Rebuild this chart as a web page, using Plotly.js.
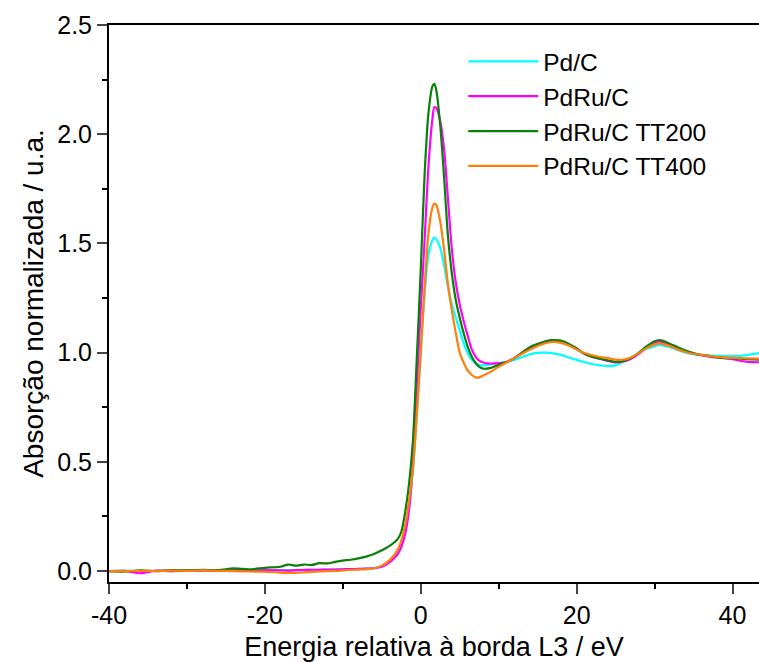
<!DOCTYPE html>
<html>
<head>
<meta charset="utf-8">
<script src="https://cdn.plot.ly/plotly-3.0.1.min.js"></script>
<style>html,body{margin:0;padding:0;background:#fff;}#chart{width:759px;height:662px;}</style>
</head>
<body>
<div id="chart"></div>
<script>
var energy = [-40,-38,-36,-34,-32,-30,-28,-26,-24,-22,-20,-18,-17,-16,-15,-14,-13,-12,-11,-10,-9,-8,-7,-6,-5,-4,-3,-2.5,-2,-1.5,-1,-0.5,0,0.5,1,1.5,1.75,2,2.5,3,3.5,4,4.5,5,5.5,6,6.5,7,7.5,8,9,10,11,12,13,14,15,16,17,18,19,20,21,22,23,24,25,26,27,28,29,30,30.6,31,32,33,34,35,36,37,38,39,40,41,42,43.5];

var pdC = [0,0.002,0,0.001,0,0.002,0.003,0.002,0.004,0.003,0.004,0.004,0.004,0.005,0.005,0.006,0.006,0.007,0.007,0.008,0.009,0.01,0.011,0.014,0.022,0.045,0.085,0.125,0.19,0.3,0.46,0.72,1.0,1.27,1.45,1.515,1.527,1.52,1.48,1.4,1.3,1.22,1.16,1.1,1.045,1.0,0.97,0.952,0.943,0.942,0.947,0.952,0.957,0.967,0.98,0.992,0.999,1.0,0.997,0.99,0.978,0.967,0.957,0.948,0.942,0.938,0.942,0.958,0.978,1.0,1.018,1.03,1.034,1.033,1.025,1.012,1.0,0.993,0.988,0.986,0.985,0.984,0.984,0.985,0.99,0.998];

var pdRuC = [0,0.001,-0.01,0.002,0,0.003,0.002,0.001,0.004,0.002,0.005,0.003,0.002,0.004,0.005,0.006,0.006,0.007,0.007,0.008,0.009,0.01,0.011,0.013,0.02,0.04,0.075,0.11,0.17,0.28,0.5,0.86,1.2,1.52,1.86,2.07,2.124,2.12,2.06,1.93,1.7,1.47,1.32,1.22,1.145,1.08,1.02,0.983,0.963,0.955,0.95,0.952,0.957,0.975,1.0,1.022,1.038,1.05,1.055,1.05,1.035,1.015,0.995,0.982,0.972,0.962,0.955,0.96,0.972,0.995,1.025,1.045,1.05,1.048,1.035,1.02,1.005,0.995,0.988,0.982,0.978,0.975,0.97,0.963,0.958,0.956];

var pdRuTT200 = [0,-0.002,0.003,0,0.004,0.003,0.006,0.004,0.012,0.008,0.015,0.02,0.03,0.025,0.03,0.028,0.036,0.035,0.042,0.048,0.052,0.058,0.066,0.078,0.095,0.115,0.145,0.18,0.27,0.4,0.6,0.98,1.38,1.82,2.1,2.22,2.231,2.2,2.04,1.8,1.53,1.36,1.24,1.16,1.09,1.03,0.985,0.955,0.935,0.927,0.93,0.945,0.957,0.975,1.0,1.025,1.04,1.052,1.057,1.055,1.04,1.02,0.995,0.98,0.972,0.965,0.958,0.962,0.975,1.0,1.03,1.052,1.058,1.055,1.04,1.025,1.01,0.998,0.99,0.985,0.978,0.975,0.975,0.972,0.97,0.968];

var pdRuTT400 = [0,0,0.001,0,0.002,0.001,0.003,0.001,0.0,-0.002,-0.003,-0.007,-0.008,-0.008,-0.006,-0.004,-0.002,0.0,0.001,0.003,0.005,0.007,0.009,0.013,0.025,0.05,0.095,0.14,0.21,0.32,0.47,0.72,1.0,1.3,1.55,1.665,1.682,1.675,1.6,1.47,1.31,1.19,1.09,1.0,0.955,0.92,0.9,0.887,0.887,0.895,0.913,0.935,0.955,0.975,0.995,1.013,1.03,1.043,1.049,1.045,1.033,1.015,0.998,0.988,0.98,0.975,0.968,0.968,0.978,0.998,1.022,1.038,1.042,1.04,1.03,1.015,1.003,0.995,0.99,0.985,0.98,0.977,0.976,0.975,0.974,0.973];

var names = ['Pd/C','PdRu/C','PdRu/C TT200','PdRu/C TT400'];
var colors = ['#00ffff','#ff00ff','#0a7f0a','#ff7f0a'];
var series = [pdC, pdRuC, pdRuTT200, pdRuTT400];
var xTicks = [-40,-20,0,20,40];
var xTickText = ['-40','-20','0','20','40'];
var yTicks = [0,0.5,1,1.5,2,2.5];
var yTickText = ['0.0','0.5','1.0','1.5','2.0','2.5'];

var font = 'Liberation Sans, Arial, sans-serif';
var traces = series.map(function(s,i){
  return {x: energy, y: s, type:'scatter', mode:'lines', name: names[i],
    line:{color: colors[i], width:2.2, shape:'spline', smoothing:0.8}};
});

var layout = {
  width:759, height:662,
  margin:{l:109, r:0, t:25, b:80},
  paper_bgcolor:'#fff', plot_bgcolor:'#fff',
  font:{family:font, color:'#000', size:22},
  showlegend:true,
  legend:{x:0.545, y:0.975, xanchor:'left', yanchor:'top', bgcolor:'rgba(0,0,0,0)',
    font:{family:font, size:24.5, color:'#000'}, itemwidth:70, tracegroupgap:0},
  xaxis:{range:[-40,43.4], tickvals:xTicks, ticktext:xTickText, ticks:'outside', ticklen:10, tickwidth:2,
    showline:true, linewidth:2, linecolor:'#000', mirror:true, showgrid:false, zeroline:false,
    tickfont:{family:font, size:25, color:'#000'},
    minor:{tickvals:[-30,-10,10,30], ticks:'outside', ticklen:5, tickwidth:2, tickcolor:'#000'},
    title:{text:'Energia relativa à borda L3 / eV', font:{family:font, size:27, color:'#000'}, standoff:10}},
  yaxis:{range:[-0.05,2.5], tickvals:yTicks, ticktext:yTickText,
    ticks:'outside', ticklen:10, tickwidth:2, showline:true, linewidth:2, linecolor:'#000',
    showgrid:false, zeroline:false, tickfont:{family:font, size:25, color:'#000'},
    minor:{tickvals:[0.25,0.75,1.25,1.75,2.25], ticks:'outside', ticklen:5, tickwidth:2, tickcolor:'#000'},
    title:{text:'Absorção normalizada / u.a.', font:{family:font, size:28, color:'#000'}, standoff:5}}
};

Plotly.newPlot('chart', traces, layout, {displayModeBar:false, staticPlot:true});
</script>
</body>
</html>
